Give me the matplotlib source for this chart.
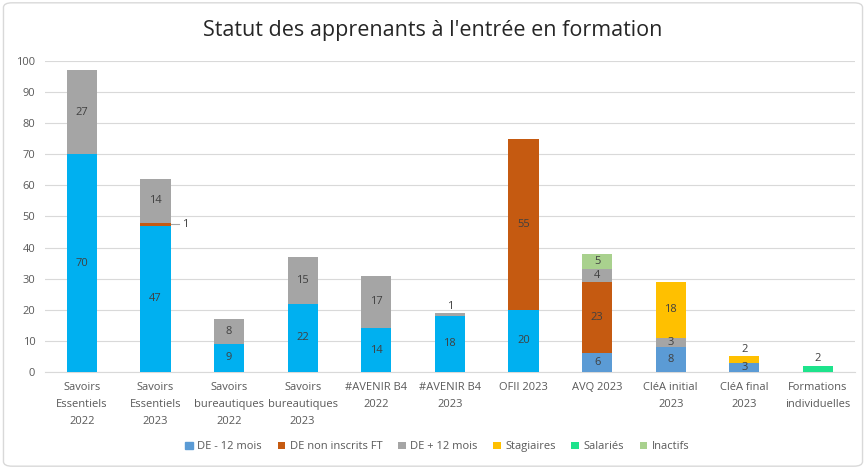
import matplotlib.pyplot as plt
import numpy as np
from matplotlib.patches import FancyBboxPatch

plt.rcParams['font.family'] = ['Open Sans', 'DejaVu Sans']

categories = ["Savoirs\nEssentiels\n2022", "Savoirs\nEssentiels\n2023", "Savoirs\nbureautiques\n2022",
              "Savoirs\nbureautiques\n2023", "#AVENIR B4\n2022", "#AVENIR B4\n2023", "OFII 2023",
              "AVQ 2023", "CléA initial\n2023", "CléA final\n2023", "Formations\nindividuelles"]
series_names = ["DE - 12 mois", "DE non inscrits FT", "DE + 12 mois", "Stagiaires", "Salariés", "Inactifs"]
de_moins12 = [70, 47, 9, 22, 14, 18, 20, 6, 8, 3, 0]
de_non_inscrits = [0, 1, 0, 0, 0, 0, 55, 23, 0, 0, 0]
de_plus12 = [27, 14, 8, 15, 17, 1, 0, 4, 3, 0, 0]
stagiaires = [0, 0, 0, 0, 0, 0, 0, 0, 18, 2, 0]
salaries = [0, 0, 0, 0, 0, 0, 0, 0, 0, 0, 2]
inactifs = [0, 0, 0, 0, 0, 0, 0, 5, 0, 0, 0]
series = [de_moins12, de_non_inscrits, de_plus12, stagiaires, salaries, inactifs]
colors = ["#5B9BD5", "#C55A11", "#A5A5A5", "#FFC000", "#1EE38C", "#A9D18E"]
cyan = "#00B0F0"
cyan_bars = 7  # first bars drawn in bright cyan

fig = plt.figure(figsize=(8.66, 4.69), dpi=100)
fig.patches.append(FancyBboxPatch((0.004, 0.006), 0.992, 0.988, boxstyle="round,pad=0,rounding_size=0.01",
                                  transform=fig.transFigure, fill=False, edgecolor="#D9D9D9", lw=1))
ax = fig.add_axes([0.052, 0.207, 0.935, 0.663])
x = np.arange(len(categories))
w = 0.41
bottom = np.zeros(len(categories))
txt = "#404040"
for i, (name, vals) in enumerate(zip(series_names, series)):
    vals = np.array(vals, dtype=float)
    cols = [colors[i]] * len(x)
    if i == 0:
        cols = [cyan if j < cyan_bars else colors[0] for j in range(len(x))]
    ax.bar(x, vals, w, bottom=bottom, color=cols, label=name, zorder=3)
    for j, v in enumerate(vals):
        if v <= 0:
            continue
        yc = bottom[j] + v / 2
        if v >= 3:
            ax.text(x[j], yc, f"{int(v)}", ha='center', va='center', fontsize=8, color=txt, zorder=4)
        elif i == 1 and j == 1:
            ax.plot([x[j] + w / 2, x[j] + w / 2 + 0.12], [yc, yc], color="#A6A6A6", lw=0.8, zorder=4)
            ax.text(x[j] + w / 2 + 0.15, yc, f"{int(v)}", ha='left', va='center', fontsize=8, color=txt)
        else:
            ax.text(x[j], bottom[j] + v + 0.4, f"{int(v)}", ha='center', va='bottom', fontsize=8, color=txt)
    bottom += vals

ax.set_xlim(-0.5, len(categories) - 0.5)
ax.set_ylim(0, 100)
ax.set_yticks(np.arange(0, 101, 10))
ax.yaxis.grid(True, color="#D9D9D9", lw=0.8, zorder=0)
for s in ['top', 'right', 'left']:
    ax.spines[s].set_visible(False)
ax.spines['bottom'].set_color("#D9D9D9")
ax.tick_params(axis='both', length=0, labelsize=8, colors="#595959")
ax.set_xticks(x)
ax.set_xticklabels(categories, linespacing=1.75)
ax.tick_params(axis='x', pad=7)
ax.tick_params(axis='y', pad=7)

fig.text(0.5, 0.935, "Statut des apprenants à l'entrée en formation", ha='center', va='center',
         fontsize=15.5, color="#262626")

handles, labels = ax.get_legend_handles_labels()
leg = fig.legend(handles, labels, loc='center', bbox_to_anchor=(0.505, 0.047), ncol=6, frameon=False,
                 fontsize=8, handlelength=0.7, handleheight=0.7, handletextpad=0.4, columnspacing=1.4,
                 labelcolor="#595959")
leg.legend_handles[0].set_color(colors[0])

fig.savefig("out.png", dpi=100)
